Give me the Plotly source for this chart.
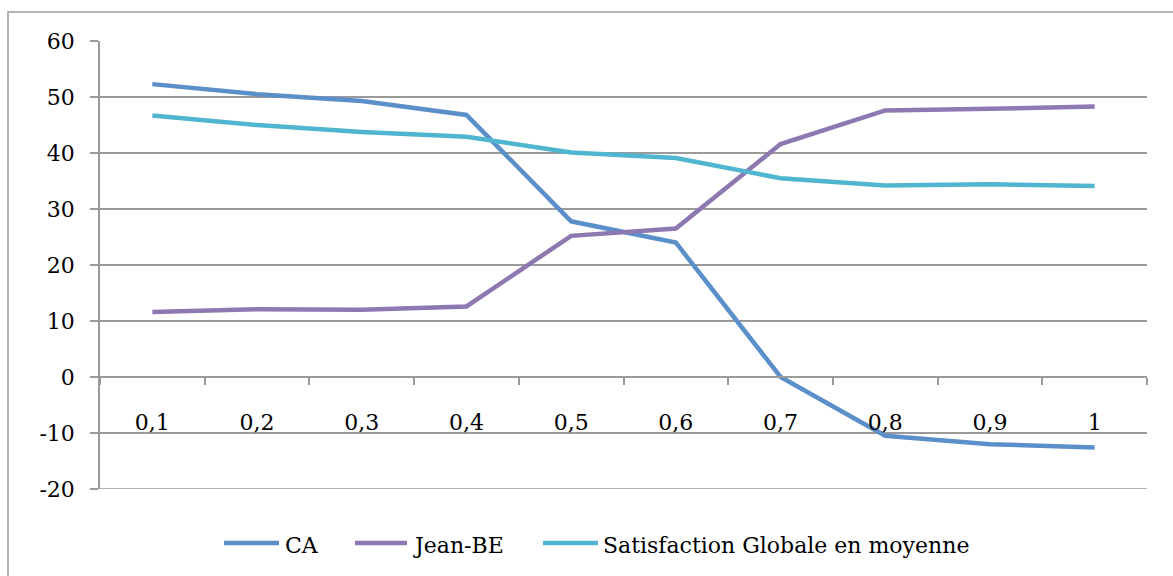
import plotly.graph_objects as go

# Category labels along the horizontal axis
categories = ["0,1", "0,2", "0,3", "0,4", "0,5", "0,6", "0,7", "0,8", "0,9", "1"]

# Value-axis ticks (hyphen minus, as in the workbook)
y_ticks = [-20, -10, 0, 10, 20, 30, 40, 50, 60]
y_tick_labels = ["-20", "-10", "0", "10", "20", "30", "40", "50", "60"]

# Series values
ca = [52.3, 50.5, 49.3, 46.8, 27.8, 24.0, 0.0, -10.5, -12.0, -12.6]
jean_be = [11.6, 12.1, 12.0, 12.6, 25.2, 26.5, 41.6, 47.6, 47.9, 48.3]
satisfaction = [46.7, 45.0, 43.75, 42.9, 40.1, 39.1, 35.5, 34.2, 34.4, 34.1]

series_names = ["CA", "Jean-BE", "Satisfaction Globale en moyenne"]
series_values = [ca, jean_be, satisfaction]
series_colors = ["#5B8FC9", "#8E78B1", "#50B5CE"]

W, H = 1173, 576
L, R, T, B = 100, 1147, 41, 489
FONT = "DejaVu Serif"
GRID = "#9A9A9A"
TEXT = "#000000"

fig = go.Figure()
for name, vals, col in zip(series_names, series_values, series_colors):
    fig.add_trace(go.Scatter(
        x=categories, y=vals, mode="lines", name=name,
        line=dict(color=col, width=4.5),
        showlegend=False,
    ))


def px_x(px):
    return (px - L) / (R - L)


def px_y(py):
    return (B - py) / (B - T)


shapes = [
    # outer chart frame (left and top edges visible)
    dict(type="rect", xref="paper", yref="paper",
         x0=px_x(8), x1=px_x(1190), y0=px_y(600), y1=px_y(12),
         line=dict(color=GRID, width=1.5), fillcolor="rgba(0,0,0,0)", layer="below"),
    # bottom gridline at the lower end of the value axis
    dict(type="line", xref="paper", yref="y",
         x0=0, x1=1, y0=min(y_ticks), y1=min(y_ticks),
         line=dict(color=GRID, width=1.5), layer="below"),
]
annotations = []

# legend row: sample line + label for each series
legend_items = [
    (224, 279, 283),
    (355, 407, 411),
    (543, 598, 601),
]
legend_y = 543
for (lx0, lx1, tx), name, col in zip(legend_items, series_names, series_colors):
    shapes.append(dict(type="line", xref="paper", yref="paper",
                       x0=px_x(lx0), x1=px_x(lx1), y0=px_y(legend_y), y1=px_y(legend_y),
                       line=dict(color=col, width=4.5)))
    annotations.append(dict(xref="paper", yref="paper", x=px_x(tx), y=px_y(legend_y + 2),
                            text=name, showarrow=False, xanchor="left", yanchor="middle",
                            font=dict(family=FONT, size=22, color=TEXT)))

fig.update_layout(
    width=W, height=H,
    margin=dict(l=L, r=W - R, t=T, b=H - B),
    paper_bgcolor="white", plot_bgcolor="white",
    font=dict(family=FONT, size=22, color=TEXT),
    shapes=shapes, annotations=annotations,
    showlegend=False,
    xaxis=dict(
        type="category", range=[-0.5, 9.5],
        anchor="free", position=0.25,
        showline=True, linecolor=GRID, linewidth=1.5,
        ticks="outside", ticklen=7, tickcolor=GRID, tickwidth=1.5,
        tickson="boundaries", showgrid=False,
        ticklabelstandoff=26,
        tickfont=dict(family=FONT, size=22, color=TEXT),
    ),
    yaxis=dict(
        range=[-20, 60], tickmode="array", tickvals=y_ticks, ticktext=y_tick_labels,
        showline=True, linecolor=GRID, linewidth=1.5,
        ticks="outside", ticklen=8, tickcolor=GRID, tickwidth=1.5,
        showgrid=True, gridcolor=GRID, gridwidth=1.5, zeroline=False,
        ticklabelstandoff=11,
        tickfont=dict(family=FONT, size=22, color=TEXT),
    ),
)

fig.write_html("out.html")
